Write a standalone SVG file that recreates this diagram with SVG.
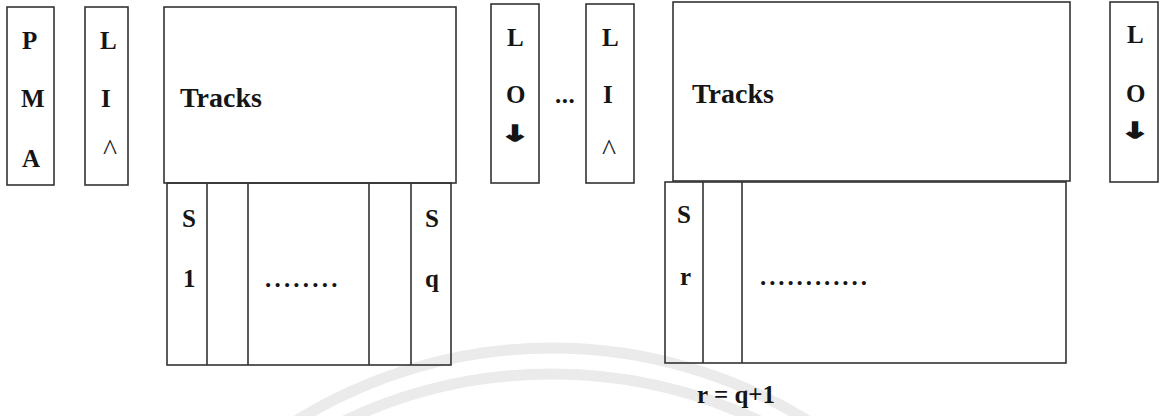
<svg xmlns="http://www.w3.org/2000/svg" width="1161" height="416" viewBox="0 0 1161 416">
  <style>
    .box { fill: none; stroke: #333333; stroke-width: 1.6; }
    .div { stroke: #333333; stroke-width: 1.6; }
    .lbl { font-family: "Liberation Serif", "Times New Roman", serif; font-weight: bold; font-size: 25px; fill: #151515; }
    .big { font-size: 28px; }
    .caret { font-family: "Liberation Serif", "Times New Roman", serif; font-size: 30px; fill: #222222; }
    .arrow { font-family: "DejaVu Sans", sans-serif; font-weight: bold; font-size: 22px; fill: #151515; stroke: #151515; stroke-width: 1.4; }
    .mark { fill: none; stroke: #ebebeb; stroke-width: 11; }
  </style>

  <rect width="1161" height="416" fill="#ffffff"/>

  <!-- faint background arcs -->
  <g id="backdrop">
    <path class="mark" d="M289.5,425 A486,486 0 0 1 814.5,425"/>
    <path class="mark" d="M336,425 A483,483 0 0 1 768,425"/>
  </g>

  <g id="pma">
    <rect class="box" x="7" y="7" width="47" height="178"/>
    <text class="lbl" x="22" y="49">P</text>
    <text class="lbl" x="21" y="107">M</text>
    <text class="lbl" x="22" y="167">A</text>
  </g>

  <g id="lead-in-1">
    <rect class="box" x="85" y="7" width="43" height="178"/>
    <text class="lbl" x="100" y="49">L</text>
    <text class="lbl" x="101" y="107">I</text>
    <text class="caret" x="103" y="160">^</text>
  </g>

  <g id="tracks-1">
    <rect class="box" x="164" y="7" width="292" height="176"/>
    <text class="lbl big" x="180" y="107">Tracks</text>
  </g>

  <g id="sectors-1">
    <rect class="box" x="167" y="183" width="284" height="182"/>
    <line class="div" x1="207" y1="183" x2="207" y2="365"/>
    <line class="div" x1="248" y1="183" x2="248" y2="365"/>
    <line class="div" x1="369" y1="183" x2="369" y2="365"/>
    <line class="div" x1="411" y1="183" x2="411" y2="365"/>
    <text class="lbl" x="182" y="227">S</text>
    <text class="lbl" x="183" y="287">1</text>
    <text class="lbl" x="265" y="287" letter-spacing="3.2">........</text>
    <text class="lbl" x="425" y="227">S</text>
    <text class="lbl" x="425" y="287">q</text>
  </g>

  <g id="lead-out-1">
    <rect class="box" x="491" y="4" width="48" height="179"/>
    <text class="lbl" x="507" y="46">L</text>
    <text class="lbl" x="506" y="103">O</text>
    <text class="arrow" transform="translate(515,141) scale(1.6,1)" text-anchor="middle">↓</text>
  </g>

  <text id="gap" class="lbl" x="555" y="103" letter-spacing="0.5">...</text>

  <g id="lead-in-2">
    <rect class="box" x="586" y="4" width="48" height="179"/>
    <text class="lbl" x="602" y="46">L</text>
    <text class="lbl" x="603" y="103">I</text>
    <text class="caret" x="602" y="160">^</text>
  </g>

  <g id="tracks-2">
    <rect class="box" x="673" y="2" width="397" height="179"/>
    <text class="lbl big" x="692" y="103">Tracks</text>
  </g>

  <g id="sectors-2">
    <rect class="box" x="665" y="182" width="401" height="181"/>
    <line class="div" x1="703" y1="182" x2="703" y2="363"/>
    <line class="div" x1="742" y1="182" x2="742" y2="363"/>
    <text class="lbl" x="677" y="223">S</text>
    <text class="lbl" x="680" y="285">r</text>
    <text class="lbl" x="760" y="285" letter-spacing="2.9">............</text>
  </g>

  <g id="lead-out-2">
    <rect class="box" x="1110" y="2" width="48" height="180"/>
    <text class="lbl" x="1127" y="43">L</text>
    <text class="lbl" x="1126" y="102">O</text>
    <text class="arrow" transform="translate(1135,138) scale(1.6,1)" text-anchor="middle">↓</text>
  </g>

  <text id="relation" class="lbl" x="697" y="403" font-size="27">r = q+1</text>
</svg>
